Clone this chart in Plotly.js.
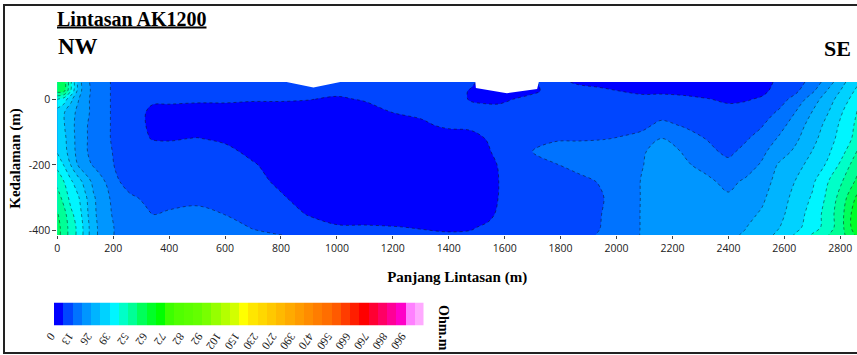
<!DOCTYPE html>
<html>
<head>
<meta charset="utf-8">
<script src="https://cdn.plot.ly/plotly-3.0.1.min.js"></script>
<style>
html, body { margin: 0; padding: 0; background: #fff; }
#chart { width: 857px; height: 355px; }
</style>
</head>
<body>
<div id="chart"></div>
<script>
// Distance along the line (m)
const distance = [0, 25, 50, 75, 100, 130, 170, 210, 260, 314, 340, 400, 500, 600, 700, 800, 900, 1000,
  1100, 1200, 1300, 1400, 1480, 1540, 1580, 1640, 1700, 1780, 1860, 1940, 2020, 2090, 2160, 2240,
  2320, 2400, 2460, 2520, 2580, 2640, 2700, 2760, 2810, 2860];

// Elevation of each model row (m)
const depth = [52, 25, 0, -40, -80, -120, -160, -200, -250, -300, -350, -390, -413];

// Inverted resistivity (Ohm.m), one row per depth, one value per distance
const resistivity = [
  [59.5, 59, 45.8, 30, 20.8, 18.2, 14.3, 11.7, 10.4, 9.8, 9.8, 9.8, 9.8, 9.8, 9.8, 9.8, 9.8, 9.8, 9.8, 9.8, 9.8, 9.8, 7.8, 3.3, 3.3, 3.3, 5.9, 9.1, 5.2, 3.3, 3.3, 3.3, 3.3, 3.3, 3.3, 3.3, 3.3, 3.9, 7.8, 10.4, 15.0, 23.4, 31.2, 37.7],
  [59, 58, 44.2, 30, 21.5, 18.2, 14.3, 11.7, 10.4, 9.8, 9.8, 9.8, 9.8, 9.8, 9.8, 9.8, 9.1, 8.5, 9.1, 9.8, 9.8, 9.8, 5.9, 3.3, 2.6, 3.3, 5.2, 9.1, 9.8, 8.5, 6.2, 4.6, 5.2, 4.9, 3.9, 3.3, 3.9, 5.2, 8.5, 11.7, 18.2, 27.3, 33.8, 40.3],
  [46, 42.3, 33.8, 26.5, 20.8, 18.2, 14.3, 11.7, 10.4, 9.8, 8.5, 8.5, 7.8, 7.8, 7.2, 7.2, 6.8, 5.5, 7.2, 8.5, 9.1, 9.8, 5.9, 4.6, 4.6, 6.8, 8.5, 9.8, 10.4, 10.4, 9.8, 9.1, 8.5, 7.8, 6.8, 5.5, 5.9, 7.2, 10.4, 15.0, 22.8, 29.9, 36.4, 42.3],
  [35.8, 32.7, 28.6, 24.1, 20.8, 18.2, 14.3, 11.7, 10.4, 6.8, 3.9, 3.3, 3.3, 3.3, 3.3, 3.3, 2.6, 2.6, 3.3, 6.6, 7.8, 9.1, 9.1, 9.8, 9.8, 9.8, 10.4, 11.1, 11.1, 11.1, 11.1, 11.1, 11.4, 10.4, 9.1, 8.5, 9.1, 10.4, 13.7, 19.6, 26.2, 32.7, 39.2, 45.8],
  [35.1, 32.7, 28.0, 23.4, 20.2, 17.6, 14.3, 11.7, 10.4, 6.8, 3.9, 2.6, 2.6, 2.6, 2.6, 2.6, 2.6, 2.6, 2.6, 3.9, 5.2, 7.8, 8.5, 9.8, 10.4, 10.4, 11.1, 11.7, 11.7, 11.7, 11.7, 12.0, 14.0, 12.7, 11.1, 10.4, 11.1, 12.7, 16.9, 22.8, 28.6, 35.1, 41.0, 46.8],
  [36.4, 33.8, 28.6, 23.4, 20.2, 17.6, 14.3, 11.7, 10.4, 7.2, 6.2, 5.9, 6.8, 5.2, 3.3, 2.6, 2.6, 2.6, 2.6, 2.6, 2.6, 2.6, 3.3, 7.2, 9.8, 10.4, 11.7, 12.4, 12.4, 12.7, 13.3, 14.3, 19.8, 15.0, 12.9, 11.1, 12.4, 15.0, 20.2, 24.7, 30.6, 36.4, 42.3, 47.5],
  [38.4, 34.5, 29.3, 23.4, 20.2, 17.6, 15.0, 12.0, 10.4, 9.8, 9.1, 9.1, 8.5, 8.5, 4.6, 2.6, 2.6, 2.6, 2.6, 2.6, 2.6, 2.6, 2.6, 5.2, 9.8, 11.1, 13.1, 15.0, 15.6, 15.6, 16.3, 18.9, 21.5, 19.2, 14.3, 12.0, 14.3, 18.2, 22.8, 27.3, 32.7, 38.4, 44.2, 52.2],
  [43.6, 38.4, 31.9, 25.4, 21.5, 18.9, 15.6, 12.4, 10.4, 9.8, 9.1, 9.1, 9.1, 9.1, 7.2, 3.3, 2.6, 2.6, 2.6, 2.6, 2.6, 2.6, 2.6, 3.3, 7.2, 9.8, 11.1, 12.7, 14.3, 15.0, 16.9, 19.2, 22.1, 20.2, 18.2, 14.3, 16.9, 20.2, 26.7, 29.9, 35.1, 40.3, 48.1, 55.0],
  [50.0, 45.2, 39.7, 35.1, 29.9, 24.1, 19.5, 13.7, 11.1, 9.8, 9.8, 9.8, 9.8, 9.1, 8.5, 5.2, 2.6, 2.6, 2.6, 2.6, 2.6, 2.6, 2.6, 3.3, 6.6, 9.1, 9.8, 10.4, 11.7, 13.3, 15.6, 19.8, 21.5, 22.1, 20.5, 18.2, 20.2, 23.4, 28.0, 32.7, 37.7, 45.8, 52.2, 58.0],
  [54.5, 49.4, 42.9, 39.7, 33.8, 26.7, 21.5, 16.9, 13.7, 12.4, 11.7, 11.1, 11.1, 10.4, 9.8, 7.2, 3.9, 3.3, 3.3, 3.3, 3.3, 3.3, 3.3, 3.3, 6.8, 9.1, 9.8, 10.4, 11.1, 12.4, 15.6, 19.8, 22.1, 22.8, 22.1, 20.2, 22.8, 25.0, 29.3, 34.5, 39.7, 47.5, 55.0, 63.0],
  [57.5, 53.5, 46.8, 42.3, 35.1, 27.3, 21.5, 18.2, 16.3, 13.7, 12.9, 13.7, 15.0, 12.9, 9.8, 8.5, 6.2, 3.9, 3.3, 3.3, 3.3, 3.3, 3.3, 4.6, 7.8, 9.1, 9.8, 10.4, 11.4, 12.7, 16.3, 19.8, 22.8, 23.4, 23.4, 23.4, 24.4, 26.7, 30.6, 35.8, 41.6, 48.8, 56.5, 66.0],
  [58.5, 55.0, 48.1, 44.2, 36.4, 28.0, 22.1, 18.9, 16.9, 15.6, 15.6, 15.6, 15.6, 15.0, 12.7, 10.4, 8.5, 7.2, 7.2, 6.8, 6.2, 5.5, 5.9, 7.8, 9.1, 9.8, 10.4, 11.1, 11.7, 12.9, 16.3, 19.8, 23.4, 24.1, 24.1, 24.7, 25.7, 29.3, 32.2, 37.1, 42.3, 48.8, 56.5, 66.0],
  [58.5, 55.0, 48.1, 44.2, 36.4, 28.0, 22.1, 18.9, 16.9, 16.3, 16.3, 16.3, 15.6, 15.0, 14.0, 13.1, 10.4, 9.1, 8.5, 7.8, 7.5, 7.2, 7.5, 8.5, 9.1, 9.8, 10.4, 11.1, 11.7, 13.3, 16.9, 19.8, 22.1, 23.4, 24.1, 24.7, 26.7, 29.9, 33.8, 39.7, 46.2, 52.2, 56.0, 63.0]
];

// Ground surface along the line (m); the model is blanked above it
const surfaceX = [0, 820, 916, 1012, 1495, 1497, 1608, 1716, 1722, 2860];
const surfaceZ = [52, 52, 35, 52, 52, 33.5, 18, 31, 52, 52];

// Colour scale: labelled resistivity bounds (every second class edge) and class colours
const scaleLabels = [0, 13, 26, 39, 52, 62, 72, 82, 92, 102, 150, 230, 270, 390, 470, 560, 660, 760, 860, 960];
const scaleTop = 1060;
const classColors = [
  '#0000ff', '#0046ff', '#0073ff', '#0096ff', '#00b4ff', '#00d2ff', '#00f5ff', '#00ffc8',
  '#00ff96', '#00ff5a', '#00ff28', '#00ff00', '#3cff00', '#50ff00', '#5aff00', '#64ff00',
  '#78ff00', '#96ff00', '#b4ff00', '#d2ff00', '#ffff00', '#ffe600', '#ffd700', '#ffc800',
  '#ffb900', '#ffaa00', '#ff9b00', '#ff8c00', '#ff7d00', '#ff6e00', '#ff5a00', '#ff3c00',
  '#ff1e00', '#ff0000', '#ff0032', '#ff0064', '#ff0096', '#ff00c8', '#ff80ff', '#ffaaff'
];

const xTicks = [0, 200, 400, 600, 800, 1000, 1200, 1400, 1600, 1800, 2000, 2200, 2400, 2600, 2800];
const yTicks = [0, -200, -400];
const yTickText = ['0', '-200', '-400'];

// ---- class edges of the colour scale (labelled edges plus the unlabelled midpoints)
const nClass = classColors.length;
const edges = [];
for (let j = 0; j < scaleLabels.length; j++) {
  const lo = scaleLabels[j];
  const hi = j + 1 < scaleLabels.length ? scaleLabels[j + 1] : scaleTop;
  edges.push(lo, (lo + hi) / 2);
}
edges.push(scaleTop);

// resistivity -> position on the (equal-width) class scale
function toClass(v) {
  for (let k = 0; k < nClass; k++) {
    if (v < edges[k + 1]) return k + (v - edges[k]) / (edges[k + 1] - edges[k]);
  }
  return nClass;
}
const classGrid = resistivity.map(row => row.map(toClass));
const colorscale = classColors.map((c, k) => [k / (nClass - 1), c]);

// ---- page geometry (px)
const W = 857, H = 355;
const M = { l: 50, r: 0, t: 82, b: 29 };
const pw = W - M.l - M.r, ph = H - M.t - M.b;
const px = x => (x - M.l) / pw;          // page x -> paper x
const py = y => (H - M.b - y) / ph;      // page y -> paper y

const serif = 'Liberation Serif, Times New Roman, serif';

const section = {
  type: 'contour',
  x: distance,
  y: depth,
  z: classGrid,
  colorscale: colorscale,
  showscale: false,
  autocontour: false,
  contours: { start: 1, end: nClass - 1, size: 1, coloring: 'fill', showlines: true },
  line: { color: '#111', width: 0.5, dash: 'dot', smoothing: 1 },
  hoverinfo: 'skip',
  xaxis: 'x', yaxis: 'y'
};

const ground = {
  type: 'scatter',
  mode: 'lines',
  x: surfaceX,
  y: surfaceZ,
  fill: 'toself',
  fillcolor: '#ffffff',
  line: { width: 0, color: '#ffffff' },
  hoverinfo: 'skip',
  showlegend: false,
  xaxis: 'x', yaxis: 'y'
};

const legendCells = {
  type: 'heatmap',
  z: [classColors.map((c, k) => k)],
  x: classColors.map((c, k) => k),
  y: [0],
  zmin: 0, zmax: nClass - 1,
  colorscale: colorscale,
  showscale: false,
  hoverinfo: 'skip',
  xaxis: 'x2', yaxis: 'y2'
};

const labelPos = scaleLabels.map((v, j) => 2 * j - 0.5);

const layout = {
  width: W, height: H,
  margin: M,
  paper_bgcolor: '#fff',
  plot_bgcolor: '#fff',
  showlegend: false,
  title: {
    text: '<b><u>Lintasan AK1200</u></b>',
    font: { family: serif, size: 20, color: '#000' },
    x: 57 / W, xref: 'container', xanchor: 'left',
    y: 1 - 18.5 / H, yref: 'container', yanchor: 'middle'
  },
  xaxis: {
    domain: [px(57.3), 1],
    range: [0, 2860],
    tickvals: xTicks,
    ticks: 'outside', ticklen: 3, tickcolor: '#444',
    showgrid: false, zeroline: false, showline: false,
    tickfont: { family: 'Open Sans, sans-serif', size: 10.5, color: '#222' },
    title: { text: '<b>Panjang Lintasan (m)</b>', font: { family: serif, size: 15, color: '#000' }, standoff: 17 }
  },
  yaxis: {
    domain: [py(235), 1],
    range: [-413, 52],
    tickvals: yTicks, ticktext: yTickText,
    ticks: 'outside', ticklen: 4, tickcolor: '#444',
    showgrid: false, zeroline: false, showline: false,
    tickfont: { family: 'Open Sans, sans-serif', size: 10.5, color: '#222' },
    title: { text: '<b>Kedalaman (m)</b>', font: { family: serif, size: 15, color: '#000' }, standoff: 4 }
  },
  xaxis2: {
    domain: [px(54), px(423.5)],
    range: [-0.5, nClass - 0.5],
    anchor: 'y2',
    tickvals: labelPos, ticktext: scaleLabels.map(String),
    tickangle: 125, ticks: '', ticklabelstandoff: 3,
    showgrid: false, zeroline: false, showline: false,
    tickfont: { family: serif, size: 11.5, color: '#222' }
  },
  yaxis2: {
    domain: [py(325.5), py(302.5)],
    range: [-0.5, 0.5],
    anchor: 'x2',
    visible: false
  },
  annotations: [
    { text: '<b>NW</b>', xref: 'paper', yref: 'paper', x: px(56), y: py(46), xanchor: 'left', yanchor: 'middle',
      showarrow: false, font: { family: serif, size: 23, color: '#000' } },
    { text: '<b>SE</b>', xref: 'paper', yref: 'paper', x: px(853), y: py(49), xanchor: 'right', yanchor: 'middle',
      showarrow: false, font: { family: serif, size: 22, color: '#000' } },
    { text: '<b>Ohm.m</b>', xref: 'paper', yref: 'paper', x: px(443.5), y: py(327.5), xanchor: 'center', yanchor: 'middle',
      textangle: 90, showarrow: false, font: { family: serif, size: 14, color: '#000' } }
  ],
  shapes: [
    { type: 'path', xref: 'paper', yref: 'paper',
      path: `M ${px(W + 2)} ${py(5)} L ${px(4)} ${py(5)} L ${px(4)} ${py(353)} L ${px(W + 2)} ${py(353)}`,
      line: { color: '#222', width: 2 } }
  ]
};

Plotly.newPlot('chart', [section, ground, legendCells], layout, { staticPlot: true, displayModeBar: false });
</script>
</body>
</html>
